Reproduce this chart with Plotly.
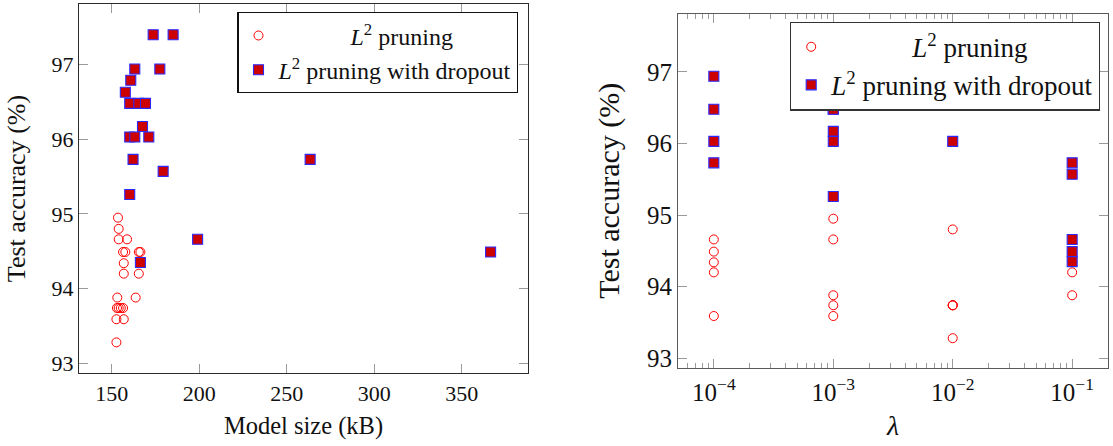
import math
import plotly.graph_objects as go

# ---- data -------------------------------------------------------------
# Left panel: model size (kB) vs test accuracy (%)
size_l2 = [153.6, 154.0, 154.0, 158.8, 156.5, 157.8, 165.5, 166.4, 156.9, 156.9,
           165.5, 153.2, 163.7, 153.0, 154.0, 155.2, 156.5, 152.7, 156.9, 152.7]
acc_l2 = [94.95, 94.80, 94.66, 94.66, 94.49, 94.49, 94.49, 94.49, 94.34, 94.20,
          94.20, 93.88, 93.88, 93.74, 93.74, 93.74, 93.74, 93.59, 93.59, 93.28]

size_drop = [173.7, 185.1, 163.2, 177.5, 160.9, 157.8, 160.3, 165.5, 169.3, 167.6,
             160.3, 163.2, 171.2, 162.2, 263.4, 179.4, 160.3, 199.1, 366.5, 166.4]
acc_drop = [97.40, 97.40, 96.94, 96.94, 96.79, 96.63, 96.48, 96.48, 96.48, 96.17,
            96.03, 96.03, 96.03, 95.73, 95.73, 95.57, 95.26, 94.66, 94.49, 94.35]

# Right panel: regularisation strength lambda vs test accuracy (%)
lam_l2 = [1e-4, 1e-4, 1e-4, 1e-4, 1e-4,
          1e-3, 1e-3, 1e-3, 1e-3, 1e-3,
          1e-2, 1e-2, 1e-2, 1e-2, 1e-2,
          1e-1, 1e-1, 1e-1, 1e-1, 1e-1]
lam_acc_l2 = [94.66, 94.49, 94.34, 94.20, 93.59,
              94.95, 94.66, 93.88, 93.74, 93.59,
              94.80, 93.74, 93.74, 93.74, 93.28,
              94.49, 94.49, 94.49, 94.20, 93.88]

lam_drop = [1e-4, 1e-4, 1e-4, 1e-4,
            1e-3, 1e-3, 1e-3, 1e-3, 1e-3,
            1e-2, 1e-2, 1e-2, 1e-2, 1e-2, 1e-2,
            1e-1, 1e-1, 1e-1, 1e-1, 1e-1]
lam_acc_drop = [96.94, 96.48, 96.03, 95.73,
                96.48, 96.48, 96.17, 96.03, 95.26,
                97.40, 97.40, 96.94, 96.79, 96.63, 96.03,
                95.73, 95.57, 94.66, 94.49, 94.35]

size_ticks = [150, 200, 250, 300, 350]
acc_ticks = [93, 94, 95, 96, 97]
lam_ticks = [1e-4, 1e-3, 1e-2, 1e-1]
lam_tick_text = ["10<sup>\u22124</sup>", "10<sup>\u22123</sup>",
                 "10<sup>\u22122</sup>", "10<sup>\u22121</sup>"]

# first legend row is centred over the wider second row
NAME_L2 = "\u00a0" * 12 + "<i>L</i><sup>2</sup> pruning"
NAME_DROP = "<i>L</i><sup>2</sup> pruning with dropout"

# ---- helpers ----------------------------------------------------------
W, H = 1113, 446
FONT = "Liberation Serif, Times New Roman, serif"


def enlarged(lo, hi, frac=0.1):
    pad = (hi - lo) * frac
    return [lo - pad, hi + pad]


def px_x(a, b):
    return [a / W, b / W]


def px_y(top, bottom):
    return [1 - bottom / H, 1 - top / H]


def f(size):
    return dict(family=FONT, size=size, color="#111")


circle = dict(symbol="circle-open", size=9, color="#ff0000", line=dict(width=1, color="#ff0000"))
square = dict(symbol="square", size=10, color="#cc0000", line=dict(width=1.1, color="#2a2aff"))

fig = go.Figure()
fig.add_trace(go.Scatter(x=size_l2, y=acc_l2, mode="markers", marker=circle,
                         name=NAME_L2, xaxis="x", yaxis="y", legend="legend"))
fig.add_trace(go.Scatter(x=size_drop, y=acc_drop, mode="markers", marker=square,
                         name=NAME_DROP, xaxis="x", yaxis="y", legend="legend"))
fig.add_trace(go.Scatter(x=lam_l2, y=lam_acc_l2, mode="markers", marker=circle,
                         name=NAME_L2, xaxis="x2", yaxis="y2", legend="legend2"))
fig.add_trace(go.Scatter(x=lam_drop, y=lam_acc_drop, mode="markers", marker=square,
                         name=NAME_DROP, xaxis="x2", yaxis="y2", legend="legend2"))

all_acc = acc_l2 + acc_drop + lam_acc_l2 + lam_acc_drop
y_range = enlarged(min(all_acc), max(all_acc))
x_range = enlarged(min(size_l2 + size_drop), max(size_l2 + size_drop))
lam_all = [math.log10(v) for v in lam_l2 + lam_drop]
lam_range = enlarged(min(lam_all), max(lam_all))

left_line = "#2b2b2b"
right_line = "#5a5a5a"
tick_col = "#9a9a9a"

common = dict(showgrid=False, zeroline=False, showline=True, mirror="ticks",
              ticks="inside", ticklen=9, tickwidth=1, tickcolor=tick_col,
              linewidth=1.2)

fig.update_layout(
    width=W, height=H,
    margin=dict(l=0, r=0, t=0, b=0),
    paper_bgcolor="white", plot_bgcolor="white",
    font=f(22),
    xaxis=dict(**common, domain=px_x(79, 528), anchor="y", range=x_range,
               tickvals=size_ticks, linecolor=left_line, tickfont=f(22),
               ticklabelstandoff=0,
               title=dict(text="Model size (kB)", font=f(24.5), standoff=12)),
    yaxis=dict(**common, domain=px_y(4, 376.5), anchor="x", range=y_range,
               tickvals=acc_ticks, linecolor=left_line, tickfont=f(22),
               ticklabelstandoff=0,
               title=dict(text="Test accuracy (%)", font=f(26), standoff=18)),
    xaxis2=dict(**common, type="log", domain=px_x(678, 1108), anchor="y2",
                range=lam_range, tickvals=lam_ticks, ticktext=lam_tick_text,
                minor=dict(ticks="inside", ticklen=5, tickcolor=tick_col, dtick="D1"),
                linecolor=right_line, tickfont=f(25), ticklabelstandoff=2,
                title=dict(text="<i>λ</i>", font=f(28), standoff=10)),
    yaxis2=dict(**common, domain=px_y(14, 371), anchor="x2", range=y_range,
                tickvals=acc_ticks, linecolor=right_line, tickfont=f(25),
                ticklabelstandoff=0,
                title=dict(text="Test accuracy (%)", font=f(30), standoff=18)),
    legend=dict(x=518.3 / W, y=1 - 12.3 / H, xanchor="right", yanchor="top",
                bgcolor="white", bordercolor="#111", borderwidth=1.2,
                font=f(24), tracegroupgap=0, itemwidth=30),
    legend2=dict(x=1100 / W, y=1 - 21.7 / H, xanchor="right", yanchor="top",
                 bgcolor="white", bordercolor="#333", borderwidth=1.2,
                 font=f(27), tracegroupgap=0, itemwidth=30),
)

fig.write_html("out.html")
